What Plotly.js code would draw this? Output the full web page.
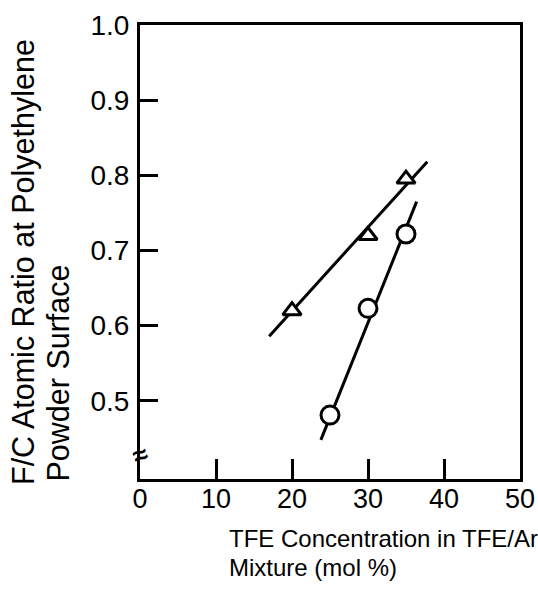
<!DOCTYPE html>
<html>
<head>
<meta charset="utf-8">
<script src="https://cdn.plot.ly/plotly-3.0.1.min.js"></script>
<style>html,body{margin:0;padding:0;background:#fff;}#chart{width:538px;height:589px;}</style>
</head>
<body>
<div id="chart"></div>
<script>
// Triangle series (upper)
const triX = [20, 30, 35];
const triY = [0.62, 0.72, 0.795];
// Circle series (lower)
const cirX = [25, 30, 35];
const cirY = [0.481, 0.623, 0.722];
// Fitted lines (endpoints)
const triLineX = [17.0, 37.8];
const triLineY = [0.586, 0.818];
const cirLineX = [23.8, 36.4];
const cirLineY = [0.448, 0.765];
// Axis ticks
const xTicks = [0, 10, 20, 30, 40, 50];
const yTicks = [0.5, 0.6, 0.7, 0.8, 0.9, 1.0];
const yTickText = ['0.5', '0.6', '0.7', '0.8', '0.9', '1.0'];
// Titles
const xTitleLines = ['TFE Concentration in TFE/Ar', 'Mixture (mol %)'];
const yTitleLines = ['F/C Atomic Ratio at Polyethylene', 'Powder Surface'];

const FONT = 'Liberation Sans, Arial, Helvetica, sans-serif';
const L = 140, R = 520, T = 25, B = 479;
const px = v => (v - L) / (R - L);
const py = v => (B - v) / (B - T);

const traces = [
  {x: triLineX, y: triLineY, mode: 'lines', line: {color: '#000', width: 3}, hoverinfo: 'skip'},
  {x: cirLineX, y: cirLineY, mode: 'lines', line: {color: '#000', width: 3}, hoverinfo: 'skip'},
  {x: triX, y: triY, mode: 'markers',
   marker: {symbol: 'triangle-up', size: 16, color: '#fff', line: {color: '#000', width: 3}}},
  {x: cirX, y: cirY, mode: 'markers',
   marker: {symbol: 'circle', size: 18, color: '#fff', line: {color: '#000', width: 3}}}
];

const layout = {
  width: 538, height: 589,
  margin: {l: L, r: 538 - R, t: T, b: 589 - B},
  paper_bgcolor: '#fff', plot_bgcolor: '#fff',
  showlegend: false,
  font: {family: FONT, color: '#000', size: 24},
  xaxis: {
    range: [0, 50], tickvals: xTicks, ticks: 'inside', ticklen: 20, tickwidth: 3, tickcolor: '#000',
    showline: true, linewidth: 3, linecolor: '#000', mirror: true, showgrid: false, zeroline: false,
    tickfont: {size: 27, family: FONT, color: '#000'}, ticklabelstandoff: -6
  },
  yaxis: {
    range: [0.396, 1.0], tickvals: yTicks, ticktext: yTickText, ticks: 'inside', ticklen: 18, tickwidth: 3, tickcolor: '#000',
    showline: true, linewidth: 3, linecolor: '#000', mirror: true, showgrid: false, zeroline: false,
    tickfont: {size: 28, family: FONT, color: '#000'}, ticklabelstandoff: 2
  },
  annotations: [
    {text: xTitleLines[0], xref: 'paper', yref: 'paper',
     x: px(227), y: py(538), xanchor: 'left', yanchor: 'middle', showarrow: false,
     font: {size: 24, family: FONT, color: '#000'}},
    {text: xTitleLines[1], xref: 'paper', yref: 'paper',
     x: px(227), y: py(567), xanchor: 'left', yanchor: 'middle', showarrow: false,
     font: {size: 24, family: FONT, color: '#000'}},
    {text: yTitleLines[0], xref: 'paper', yref: 'paper',
     x: px(24), y: py(487), xanchor: 'center', yanchor: 'bottom', textangle: -90, showarrow: false,
     font: {size: 30.5, family: FONT, color: '#000'}},
    {text: yTitleLines[1], xref: 'paper', yref: 'paper',
     x: px(57), y: py(484), xanchor: 'center', yanchor: 'bottom', textangle: -90, showarrow: false,
     font: {size: 30.5, family: FONT, color: '#000'}},
    {text: '<b>≈</b>', xref: 'x', yref: 'y', x: 0, y: 0.428, showarrow: false, textangle: -20,
     font: {size: 26, family: FONT, color: '#000'}}
  ]
};

Plotly.newPlot('chart', traces, layout, {displayModeBar: false, staticPlot: true});
</script>
</body>
</html>
